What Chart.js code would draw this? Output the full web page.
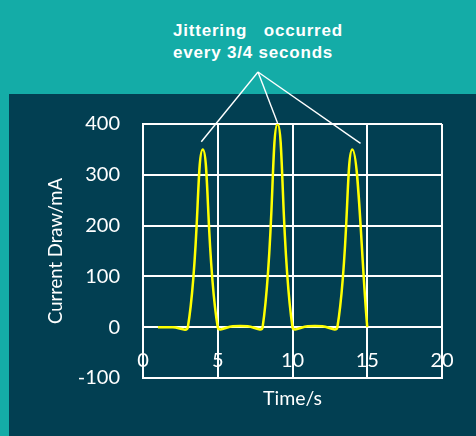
<!DOCTYPE html>
<html>
<head>
<meta charset="utf-8">
<script src="https://cdn.jsdelivr.net/npm/chart.js@4/dist/chart.umd.min.js"></script>
<style>
  body { margin: 0; background: #14aca7; width: 476px; height: 436px; overflow: hidden; position: relative; }
  #panel { position: absolute; left: 9px; top: 94px; width: 467px; height: 342px; background: #023f52; }
  #note { position: absolute; left: 173px; top: 20px; color: #fff; font: bold 17px "Liberation Sans", Arial, sans-serif; line-height: 22px; letter-spacing: 0.8px; white-space: pre; }
  canvas { position: absolute; left: 0; top: 0; }
</style>
</head>
<body>
<div id="panel"></div>
<div id="note">Jittering   occurred
every 3/4 seconds</div>
<canvas id="chart" width="476" height="436"></canvas>
<script>
// time in seconds, current in mA
const times = [1, 2, 3, 4, 5, 6, 7, 8, 9, 10, 11, 12, 13, 14, 15];
const current = [0, 0, 0, 350, 0, 2, 2, 0, 400, 0, 2, 2, 0, 350, 0];
const xTicks = [0, 5, 10, 15, 20];
const yTicks = [-100, 0, 100, 200, 300, 400];
// peaks the callout points at (time, mA)
const calloutTargets = [[3.9, 365], [9, 402], [14.55, 362]];

const points = times.map((t, i) => ({ x: t, y: current[i] }));

const calloutLines = {
    id: "calloutLines",
    afterDraw(chart) {
        const ctx = chart.ctx;
        const xs = chart.scales.x;
        const ys = chart.scales.y;
        ctx.save();
        ctx.strokeStyle = "#ffffff";
        ctx.lineWidth = 1.4;
        calloutTargets.forEach(([t, v]) => {
            ctx.beginPath();
            ctx.moveTo(258, 72);
            ctx.lineTo(xs.getPixelForValue(t), ys.getPixelForValue(v));
            ctx.stroke();
        });
        ctx.restore();
    }
};

const fontFamily = "Lato, 'Open Sans', sans-serif";

new Chart(document.getElementById("chart").getContext("2d"), {
    type: "line",
    data: {
        datasets: [{
            label: "Current",
            data: points,
            borderColor: "#ffff00",
            borderWidth: 2.5,
            pointRadius: 0,
            tension: 0.4,
            fill: false
        }]
    },
    options: {
        responsive: false,
        animation: false,
        layout: { padding: { left: 0, top: 124, right: 34, bottom: 0 } },
        plugins: { legend: { display: false }, tooltip: { enabled: false } },
        scales: {
            x: {
                type: "linear",
                min: 0,
                max: 20,
                afterBuildTicks: (s) => { s.ticks = xTicks.map(v => ({ value: v })); },
                afterFit: (s) => { s.height = 58; },
                grid: { color: "#ffffff", lineWidth: 2, drawTicks: false },
                border: { color: "#ffffff", width: 2 },
                // labels sit inside the plot, just under the 0 line
                ticks: { color: "#ffffff", font: { family: fontFamily, size: 20 }, mirror: true, padding: 5, maxRotation: 0, autoSkip: false },
                title: { display: true, text: "Time/s", color: "#ffffff",
                    font: { family: fontFamily, size: 19.5 }, padding: { top: 0, bottom: 26 } }
            },
            y: {
                min: -100,
                max: 400,
                afterBuildTicks: (s) => { s.ticks = yTicks.map(v => ({ value: v })); },
                afterFit: (s) => { s.width = 143; },
                grid: { color: "#ffffff", lineWidth: 2, drawTicks: false },
                border: { color: "#ffffff", width: 2 },
                ticks: { color: "#ffffff", font: { family: fontFamily, size: 20 }, padding: 23 },
                title: { display: true, text: "Current Draw/mA", color: "#ffffff",
                    font: { family: fontFamily, size: 18.5 }, padding: { top: 45, bottom: 0 } }
            }
        }
    },
    plugins: [calloutLines]
});
</script>
</body>
</html>
